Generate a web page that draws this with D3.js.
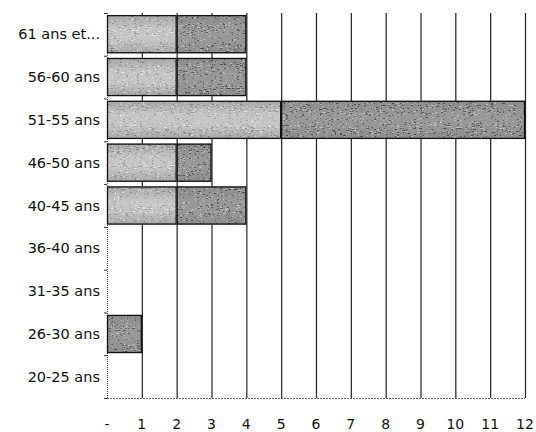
<!DOCTYPE html>
<html>
<head>
<meta charset="utf-8">
<script src="https://cdn.jsdelivr.net/npm/d3@7"></script>
<style>
  html, body { margin: 0; padding: 0; background: #fff; }
  svg { display: block; }
  text { font-family: "DejaVu Sans", "Open Sans", sans-serif; fill: #111; }
</style>
</head>
<body>
<svg id="chart" width="536" height="432"></svg>
<script>
// Age groups, listed from the top row down
const categories = ["61 ans et...", "56-60 ans", "51-55 ans", "46-50 ans", "40-45 ans",
                    "36-40 ans", "31-35 ans", "26-30 ans", "20-25 ans"];
// First (light) and second (dark) stacked series
const seriesLight = [2, 2, 5, 2, 2, 0, 0, 0, 0];
const seriesDark  = [2, 2, 7, 1, 2, 0, 0, 1, 0];
// Horizontal axis tick values and their labels
const tickValues = [0, 1, 2, 3, 4, 5, 6, 7, 8, 9, 10, 11, 12];
const tickLabels = ["-", "1", "2", "3", "4", "5", "6", "7", "8", "9", "10", "11", "12"];

const svg = d3.select("#chart");
const margin = { left: 107, right: 11, top: 13, bottom: 34 };
const W = 536, H = 432;

const x = d3.scaleLinear().domain([0, 12]).range([margin.left, W - margin.right]);
const y = d3.scaleBand().domain(categories).range([margin.top, H - margin.bottom])
  .paddingInner(0.11).paddingOuter(0.05);

// Texture definitions: shaded gradient plus a streaky grain filter
const defs = svg.append("defs");
function gradient(id, edge, mid) {
  const g = defs.append("linearGradient").attr("id", id)
    .attr("x1", 0).attr("y1", 0).attr("x2", 0).attr("y2", 1);
  g.append("stop").attr("offset", "0%").attr("stop-color", edge);
  g.append("stop").attr("offset", "35%").attr("stop-color", mid);
  g.append("stop").attr("offset", "65%").attr("stop-color", mid);
  g.append("stop").attr("offset", "100%").attr("stop-color", edge);
}
gradient("gLight", "#8e8e8e", "#cfcfcf");
gradient("gDark", "#303030", "#666666");

const f = defs.append("filter").attr("id", "grain")
  .attr("x", 0).attr("y", 0).attr("width", 1).attr("height", 1);
f.append("feTurbulence").attr("type", "fractalNoise").attr("baseFrequency", "0.35 0.95")
  .attr("numOctaves", 2).attr("seed", 11).attr("result", "t");
f.append("feColorMatrix").attr("in", "t").attr("type", "matrix")
  .attr("values", "0.33 0.33 0.33 0 0  0.33 0.33 0.33 0 0  0.33 0.33 0.33 0 0  0 0 0 0 1")
  .attr("result", "g");
const ct = f.append("feComponentTransfer").attr("in", "g").attr("result", "c");
["feFuncR", "feFuncG", "feFuncB"].forEach(n =>
  ct.append(n).attr("type", "discrete").attr("tableValues", "0 0.1 0.5 0.9 1"));
f.append("feComposite").attr("in", "SourceGraphic").attr("in2", "c")
  .attr("operator", "arithmetic").attr("k1", 0).attr("k2", 0.5).attr("k3", 0.5).attr("k4", 0)
  .attr("result", "m");
f.append("feComposite").attr("in", "m").attr("in2", "SourceGraphic").attr("operator", "in");

const plotTop = margin.top, plotBottom = H - margin.bottom;

// Vertical gridlines at each unit
svg.append("g").selectAll("line").data(tickValues.filter(v => v > 0)).join("line")
  .attr("x1", d => x(d) + 0.5).attr("x2", d => x(d) + 0.5)
  .attr("y1", plotTop).attr("y2", plotBottom)
  .attr("stroke", "#222").attr("stroke-width", 1.2);

// Left axis line with small ticks at category boundaries
svg.append("line")
  .attr("x1", x(0) + 0.5).attr("x2", x(0) + 0.5).attr("y1", plotTop).attr("y2", plotBottom)
  .attr("stroke", "#444").attr("stroke-width", 1).attr("stroke-dasharray", "1 1");
const boundaries = d3.range(categories.length + 1).map(i => plotTop + i * (plotBottom - plotTop) / categories.length);
svg.append("g").selectAll("line").data(boundaries).join("line")
  .attr("x1", x(0) - 3).attr("x2", x(0))
  .attr("y1", d => d + 0.5).attr("y2", d => d + 0.5)
  .attr("stroke", "#333").attr("stroke-width", 1);

// Bottom axis line
svg.append("line")
  .attr("x1", x(0)).attr("x2", x(12)).attr("y1", plotBottom + 0.5).attr("y2", plotBottom + 0.5)
  .attr("stroke", "#666").attr("stroke-width", 1).attr("stroke-dasharray", "2 1");

// Stacked bars
const rows = categories.map((c, i) => ({ cat: c, light: seriesLight[i], dark: seriesDark[i] }));
const stack = d3.stack().keys(["light", "dark"])(rows);
const fills = { light: "url(#gLight)", dark: "url(#gDark)" };

stack.forEach(layer => {
  const g = svg.append("g");
  const segs = layer.filter(d => d[1] - d[0] > 0);
  g.selectAll("rect.fill").data(segs).join("rect").attr("class", "fill")
    .attr("x", d => x(d[0])).attr("width", d => x(d[1]) - x(d[0]))
    .attr("y", d => y(d.data.cat)).attr("height", y.bandwidth())
    .attr("fill", fills[layer.key]).attr("filter", "url(#grain)");
  g.selectAll("rect.edge").data(segs).join("rect").attr("class", "edge")
    .attr("x", d => x(d[0]) + 0.5).attr("width", d => x(d[1]) - x(d[0]) - 1)
    .attr("y", d => y(d.data.cat) + 0.5).attr("height", y.bandwidth() - 1)
    .attr("fill", "none").attr("stroke", "#111").attr("stroke-width", 1.3);
});

// Category labels
svg.append("g").selectAll("text").data(categories).join("text")
  .attr("x", x(0) - 7).attr("y", d => y(d) + y.bandwidth() / 2)
  .attr("text-anchor", "end").attr("dominant-baseline", "central")
  .attr("font-size", 14.5).text(d => d);

// Horizontal axis labels
svg.append("g").selectAll("text").data(tickValues).join("text")
  .attr("x", d => x(d)).attr("y", 429)
  .attr("text-anchor", "middle")
  .attr("font-size", 14).text((d, i) => tickLabels[i]);
</script>
</body>
</html>
